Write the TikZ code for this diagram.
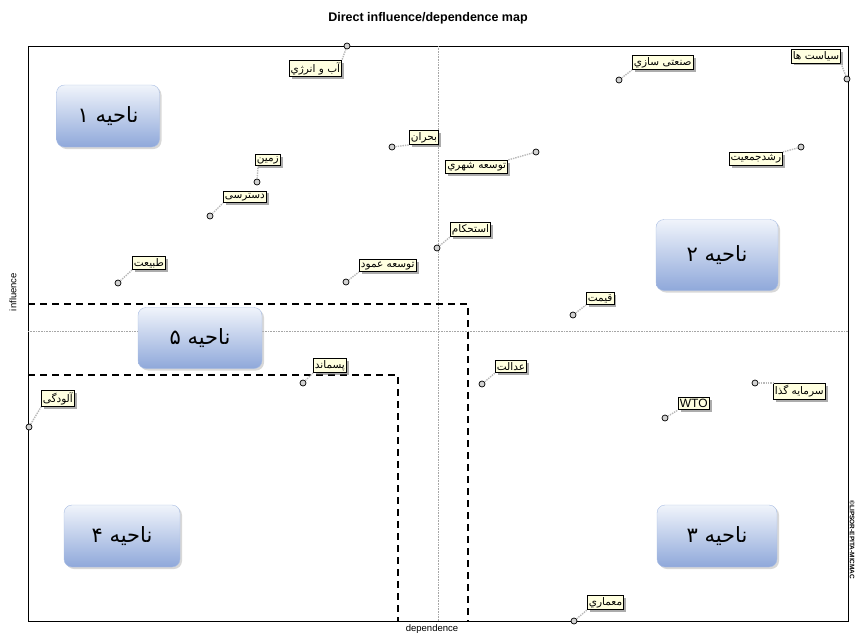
\documentclass[tikz,border=0pt]{standalone}
\usepackage{fontspec}
\setmainfont{Liberation Sans}
\newfontfamily\fa[Script=Arabic]{DejaVu Sans}
\TeXXeTstate=1
\usetikzlibrary{shadows}
\definecolor{lblfill}{HTML}{FFFFE0}
\definecolor{regtop}{HTML}{F0F4FB}
\definecolor{regbot}{HTML}{8FA8DA}
\definecolor{regline}{HTML}{A9BDE3}
\newcommand{\fatxt}[1]{{\fa\beginR #1\endR}}

\begin{document}
\begin{tikzpicture}[
        x=1pt, y=-1pt,
        pt/.style={circle, draw=black, fill=gray!35, line width=0.7pt, inner sep=0pt, minimum size=6pt},
        lbl/.style={draw=black, line width=0.8pt, fill=lblfill, inner xsep=1.5pt, inner ysep=2pt,
            font=\fontsize{10.5}{12}\selectfont,
            drop shadow={shadow xshift=2.5pt, shadow yshift=-2.5pt, fill=black!65}},
        link/.style={draw=gray!55, densely dotted, line width=1.4pt},
        region/.style={rounded corners=8pt, draw=regline, top color=regtop, bottom color=regbot,
            font=\fontsize{21}{24}\selectfont, inner sep=0pt,
            drop shadow={shadow xshift=2pt, shadow yshift=-2pt, fill=black!30}},
        zone/.style={line width=1.4pt, dash pattern=on 7pt off 5pt},
        axis/.style={draw=gray!70, densely dotted, line width=0.6pt}
    ]
        \useasboundingbox (0,0) rectangle (860,635);

        % Frame and axes
        \node[font=\bfseries\fontsize{12.5}{14}\selectfont] (title) at (428,18) {Direct influence/dependence map};
        \draw[line width=0.8pt] (28,46) rectangle (848,621);
        \draw[axis] (438,46) -- (438,621);
        \draw[axis] (28,331) -- (848,331);
        \node[font=\fontsize{9.5}{10}\selectfont] (xlab) at (432,629) {dependence};
        \node[font=\fontsize{9.5}{10}\selectfont, rotate=90] (ylab) at (13,292) {influence};
        \node[font=\bfseries\fontsize{6.5}{7}\selectfont, rotate=-90] (copy) at (852,540) {\textcopyright LIPSOR-EPITA-MICMAC};

        % Dashed zones
        \draw[zone] (28,304) -- (468,304) -- (468,621);
        \draw[zone] (28,375) -- (398,375) -- (398,621);

        % Regions
        \node[region, minimum width=103pt, minimum height=62pt] (r1) at (108,116) {\fatxt{ناحیه ۱}};
        \node[region, minimum width=122pt, minimum height=71pt] (r2) at (717,255) {\fatxt{ناحیه ۲}};
        \node[region, minimum width=124pt, minimum height=61pt] (r5) at (200,338) {\fatxt{ناحیه ۵}};
        \node[region, minimum width=116pt, minimum height=62pt] (r4) at (122,536) {\fatxt{ناحیه ۴}};
        \node[region, minimum width=120pt, minimum height=62pt] (r3) at (717,536) {\fatxt{ناحیه ۳}};

        % Variables: points
        \node[pt] (p1) at (347,46) {};
        \node[pt] (p2) at (619,80) {};
        \node[pt] (p3) at (847,79) {};
        \node[pt] (p4) at (392,147) {};
        \node[pt] (p5) at (257,182) {};
        \node[pt] (p6) at (536,152) {};
        \node[pt] (p7) at (801,147) {};
        \node[pt] (p8) at (210,216) {};
        \node[pt] (p9) at (437,248) {};
        \node[pt] (p10) at (118,283) {};
        \node[pt] (p11) at (346,282) {};
        \node[pt] (p12) at (573,315) {};
        \node[pt] (p13) at (303,383) {};
        \node[pt] (p14) at (29,427) {};
        \node[pt] (p15) at (482,384) {};
        \node[pt] (p16) at (755,383) {};
        \node[pt] (p17) at (665,418) {};
        \node[pt] (p18) at (574,621) {};

        % Variables: labels
        \node[lbl, anchor=north east] (l1) at (342,60) {\fatxt{آب و انرژي}};
        \node[lbl, anchor=south west] (l2) at (632,70) {\fatxt{صنعتی سازي}};
        \node[lbl, anchor=north east] (l3) at (841,49) {\fatxt{سیاست ها}};
        \node[lbl, anchor=south west] (l4) at (409,145) {\fatxt{بحران}};
        \node[lbl, anchor=south west] (l5) at (255,166) {\fatxt{زمین}};
        \node[lbl, anchor=north east] (l6) at (508,160) {\fatxt{توسعه شهري}};
        \node[lbl, anchor=north east] (l7) at (783,152) {\fatxt{رشدجمعیت}};
        \node[lbl, anchor=south west] (l8) at (223,203) {\fatxt{دسترسی}};
        \node[lbl, anchor=south west] (l9) at (450,237) {\fatxt{استحکام}};
        \node[lbl, anchor=south west] (l10) at (132,270) {\fatxt{طبیعت}};
        \node[lbl, anchor=south west] (l11) at (359,272) {\fatxt{توسعه عمود}};
        \node[lbl, anchor=south west] (l12) at (586,305) {\fatxt{قیمت}};
        \node[lbl, anchor=south west] (l13) at (313,373) {\fatxt{پسماند}};
        \node[lbl, anchor=south west] (l14) at (41,407) {\fatxt{آلودگی}};
        \node[lbl, anchor=south west] (l15) at (495,373) {\fatxt{عدالت}};
        \node[lbl, anchor=north west] (l16) at (773,383) {\fatxt{سرمایه گذا}};
        \node[lbl, anchor=south west, font=\fontsize{12}{13}\selectfont] (l17) at (678,410) {WTO};
        \node[lbl, anchor=south west] (l18) at (587,610) {\fatxt{معماري}};

        % Variables: links
        \draw[link] (p1) -- (l1.north east);
        \draw[link] (p2) -- (l2.south west);
        \draw[link] (p3) -- (l3.south east);
        \draw[link] (p4) -- (l4.south west);
        \draw[link] (p5) -- ([xshift=3pt]l5.south west);
        \draw[link] (p6) -- (l6.north east);
        \draw[link] (p7) -- (l7.north east);
        \draw[link] (p8) -- (l8.south west);
        \draw[link] (p9) -- (l9.south west);
        \draw[link] (p10) -- (l10.south west);
        \draw[link] (p11) -- (l11.south west);
        \draw[link] (p12) -- (l12.south west);
        \draw[link] (p13) -- (l13.south west);
        \draw[link] (p14) -- (l14.south west);
        \draw[link] (p15) -- (l15.south west);
        \draw[link] (p16) -- (l16.north west);
        \draw[link] (p17) -- (l17.south west);
        \draw[link] (p18) -- (l18.south west);
    \end{tikzpicture}
\end{document}
